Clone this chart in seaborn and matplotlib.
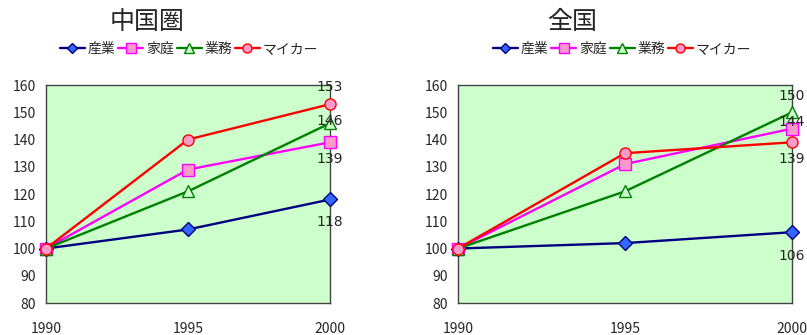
import matplotlib
matplotlib.use("Agg")
import matplotlib.pyplot as plt
import seaborn as sns
import pandas as pd
from matplotlib.lines import Line2D

sns.set_style("white")
plt.rcParams['font.family'] = ['Noto Sans CJK JP', 'DejaVu Sans']

years = [1990, 1995, 2000]
series_names = ["産業", "家庭", "業務", "マイカー"]

chugoku = {
    "産業": [100, 107, 118],
    "家庭": [100, 129, 139],
    "業務": [100, 121, 146],
    "マイカー": [100, 140, 153],
}
zenkoku = {
    "産業": [100, 102, 106],
    "家庭": [100, 131, 144],
    "業務": [100, 121, 150],
    "マイカー": [100, 135, 139],
}
titles = ["中国圏", "全国"]
yticks = [80, 90, 100, 110, 120, 130, 140, 150, 160]

styles = {
    "産業": dict(color="#000080", marker="D", mfc="#3366FF", mec="#000080", ms=7),
    "家庭": dict(color="#FF00FF", marker="s", mfc="#FF99CC", mec="#FF00FF", ms=8),
    "業務": dict(color="#008000", marker="^", mfc="#CCFFCC", mec="#008000", ms=9),
    "マイカー": dict(color="#FF0000", marker="o", mfc="#FF99CC", mec="#FF0000", ms=8),
}
# vertical offset (points) of the end-value label from its marker
label_offset = [
    {"産業": -16.5, "家庭": -12, "業務": 1.5, "マイカー": 12},
    {"産業": -17, "家庭": 4.5, "業務": 12, "マイカー": -12},
]

fig = plt.figure(figsize=(8.07, 3.35), dpi=100)
axes_pos = [[0.057, 0.0955, 0.352, 0.6505], [0.5675, 0.0955, 0.414, 0.6505]]
title_x = [147 / 807, 572 / 807]
legend_x = [189 / 807, 622 / 807]

for i, data in enumerate([chugoku, zenkoku]):
    ax = fig.add_axes(axes_pos[i])
    ax.set_facecolor("#CCFFCC")
    df = pd.DataFrame(
        [(y, name, v) for name in series_names for y, v in zip(years, data[name])],
        columns=["年", "部門", "指数"],
    )
    handles = []
    for name in series_names:
        st = styles[name]
        sub = df[df["部門"] == name]
        sns.lineplot(data=sub, x="年", y="指数", ax=ax, color=st["color"],
                     linewidth=1.7, marker=st["marker"], markersize=st["ms"],
                     markerfacecolor=st["mfc"], markeredgecolor=st["mec"],
                     markeredgewidth=1, clip_on=False, zorder=3)
        handles.append(Line2D([], [], color=st["color"], lw=1.7, marker=st["marker"],
                              markersize=st["ms"] - 1.5, markerfacecolor=st["mfc"],
                              markeredgecolor=st["mec"], label=name))
        last = data[name][-1]
        ax.annotate(f"{last}", (years[-1], last), xytext=(0, label_offset[i][name]),
                    textcoords="offset points", ha="center", va="center",
                    fontsize=10, family=['DejaVu Sans'], zorder=5,
                    annotation_clip=False)
    ax.set_xlim(1990, 2000)
    ax.set_ylim(80, 160)
    ax.set_xticks(years)
    ax.set_yticks(yticks)
    ax.tick_params(axis="x", length=0, pad=14, labelsize=10)
    ax.tick_params(axis="y", length=0, pad=7, labelsize=10)
    ax.set_xlabel("")
    ax.set_ylabel("")
    for sp in ax.spines.values():
        sp.set_color("#444444")
        sp.set_linewidth(1)
    fig.text(title_x[i], 1 - 22 / 335, titles[i], ha="center", va="center", fontsize=18)
    fig.legend(handles=handles, loc="center", bbox_to_anchor=(legend_x[i], 1 - 49 / 335),
               ncol=4, frameon=False, fontsize=10, handlelength=1.8, handletextpad=0.2,
               columnspacing=0.2, borderaxespad=0)

fig.savefig("out.png", dpi=100)
